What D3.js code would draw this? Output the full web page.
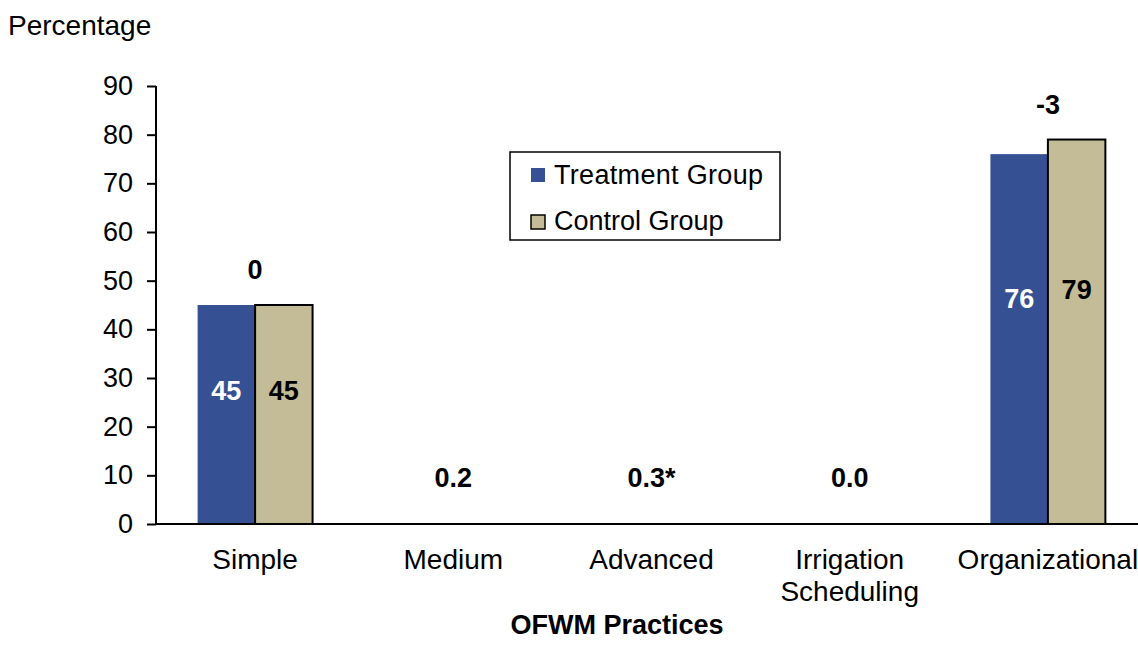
<!DOCTYPE html>
<html>
<head>
<meta charset="utf-8">
<script src="https://cdn.jsdelivr.net/npm/d3@7"></script>
<style>
  body { margin: 0; background: #fff; }
  svg { display: block; font-family: "Liberation Sans", Arial, sans-serif; }
</style>
</head>
<body>
<div id="chart"></div>
<script>
const categories = ['Simple', 'Medium', 'Advanced', 'Irrigation\nScheduling', 'Organizational'];
const treatment = [45, 0, 0, 0, 76];
const control = [45, 0, 0, 0, 79];
const diffLabels = ['0', '0.2', '0.3*', '0.0', '-3'];
const yTicks = [0, 10, 20, 30, 40, 50, 60, 70, 80, 90];
const seriesNames = ['Treatment Group', 'Control Group'];
const colors = ['#355093', '#c4bc97'];

const width = 1138, height = 663;
const margin = { top: 86, left: 156, bottom: 139 };
const fontSize = 28;

const svg = d3.select('#chart').append('svg')
  .attr('width', width)
  .attr('height', height);

const x = d3.scaleBand()
  .domain(categories)
  .range([margin.left, margin.left + 5 * 198.2])
  .paddingInner(0.42)
  .paddingOuter(0.21);

const xSub = d3.scaleBand()
  .domain([0, 1])
  .range([0, x.bandwidth()]);

const y = d3.scaleLinear()
  .domain([0, 90])
  .range([height - margin.bottom, margin.top]);

// y axis
const yAxis = svg.append('g')
  .attr('transform', `translate(${margin.left},0)`)
  .call(d3.axisLeft(y).tickValues(yTicks).tickSize(9).tickPadding(14));
yAxis.select('.domain').attr('stroke', '#000').attr('stroke-width', 2)
  .attr('d', `M0,${y(90)}V${y(0)}`);
yAxis.selectAll('.tick line').attr('stroke', '#000').attr('stroke-width', 2);
yAxis.selectAll('.tick text')
  .attr('font-size', 27)
  .attr('font-family', '"Liberation Sans", Arial, sans-serif')
  .attr('fill', '#000');

const groups = categories.map((c, i) => ({ cat: c, vals: [treatment[i], control[i]], diff: diffLabels[i] }));

// bars
const g = svg.append('g');
groups.forEach(d => {
  d.vals.forEach((v, j) => {
    if (v <= 0) return;
    g.append('rect')
      .attr('x', x(d.cat) + xSub(j))
      .attr('y', y(v))
      .attr('width', xSub.bandwidth())
      .attr('height', y(0) - y(v))
      .attr('fill', colors[j])
      .attr('stroke', j === 1 ? '#000' : 'none')
      .attr('stroke-width', 2);
    g.append('text')
      .attr('x', x(d.cat) + xSub(j) + xSub.bandwidth() / 2)
      .attr('y', y(v * 0.61) + 10)
      .attr('text-anchor', 'middle')
      .attr('font-size', 27)
      .attr('font-weight', 'bold')
      .attr('fill', j === 0 ? '#fff' : '#000')
      .text(v);
  });
  // difference label above the taller bar, or just above the axis
  const top = d3.max(d.vals);
  g.append('text')
    .attr('x', x(d.cat) + x.bandwidth() / 2)
    .attr('y', top > 1 ? y(top) - 26 : y(0) - 37)
    .attr('text-anchor', 'middle')
    .attr('font-size', 27)
    .attr('font-weight', 'bold')
    .text(d.diff);
});

// x axis line
svg.append('line')
  .attr('x1', margin.left).attr('x2', width)
  .attr('y1', y(0)).attr('y2', y(0))
  .attr('stroke', '#000').attr('stroke-width', 2);

// category labels
categories.forEach(c => {
  const t = svg.append('text')
    .attr('x', x(c) + x.bandwidth() / 2)
    .attr('y', 569)
    .attr('text-anchor', 'middle')
    .attr('font-size', fontSize);
  c.split('\n').forEach((line, k) => {
    t.append('tspan')
      .attr('x', x(c) + x.bandwidth() / 2)
      .attr('dy', k === 0 ? 0 : 32)
      .text(line);
  });
});

// titles
svg.append('text')
  .attr('x', 617).attr('y', 634)
  .attr('text-anchor', 'middle')
  .attr('font-size', 27)
  .attr('font-weight', 'bold')
  .text('OFWM Practices');

svg.append('text')
  .attr('x', 8).attr('y', 35)
  .attr('font-size', fontSize)
  .text('Percentage');

// legend
const legend = svg.append('g').attr('transform', 'translate(510,152)');
legend.append('rect')
  .attr('width', 270).attr('height', 88)
  .attr('fill', '#fff').attr('stroke', '#000').attr('stroke-width', 1.5);
seriesNames.forEach((s, i) => {
  legend.append('rect')
    .attr('x', 21).attr('y', 16 + i * 47)
    .attr('width', 14).attr('height', 14)
    .attr('fill', colors[i])
    .attr('stroke', i === 1 ? '#000' : 'none')
    .attr('stroke-width', 1.5);
  legend.append('text')
    .attr('x', 44).attr('y', 32 + i * 46)
    .attr('font-size', 27)
    .attr('textLength', i === 0 ? 209 : null)
    .text(s);
});
</script>
</body>
</html>
